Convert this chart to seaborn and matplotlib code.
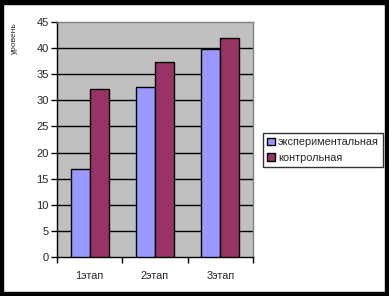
import matplotlib
matplotlib.use("Agg")
import matplotlib.pyplot as plt
import seaborn as sns
import pandas as pd
from matplotlib.patches import Rectangle

categories = ["1этап", "2этап", "3этап"]
series_names = ["экспериментальная", "контрольная"]
exp_values = [16.8, 32.5, 39.8]
ctrl_values = [32.1, 37.3, 41.9]
y_ticks = [0, 5, 10, 15, 20, 25, 30, 35, 40, 45]
y_label = "уровень"

sns.set_theme(style="white")
plt.rcParams['font.family'] = ['Liberation Sans', 'DejaVu Sans']

df = pd.DataFrame({
    "cat": categories * 2,
    "series": [series_names[0]] * 3 + [series_names[1]] * 3,
    "value": exp_values + ctrl_values,
})

fig = plt.figure(figsize=(3.89, 2.96), dpi=100)
ax = fig.add_axes([57/389, (296-257)/296, 196/389, 235/296])
ax.set_facecolor("#C0C0C0")

sns.barplot(data=df, x="cat", y="value", hue="series",
            palette=["#9999FF", "#993366"], saturation=1, width=0.58,
            edgecolor="black", linewidth=1.0, ax=ax, zorder=3)

ax.set_ylim(0, 45)
ax.set_xlim(-0.5, 2.5)
ax.set_yticks(y_ticks)
ax.set_yticklabels([str(t) for t in y_ticks], fontsize=8)
for t in y_ticks[1:-1]:
    ax.axhline(t, color="black", linewidth=1.0, zorder=1)

ax.set_xticks([-0.5, 0.5, 1.5, 2.5])
ax.set_xticklabels([])
ax.set_xticks([0, 1, 2], minor=True)
ax.set_xticklabels(categories, minor=True, fontsize=7.8)
ax.tick_params(axis="x", which="major", length=4, width=1, color="black", direction="out", bottom=True)
ax.tick_params(axis="x", which="minor", length=0, pad=10)
ax.tick_params(axis="y", length=4, width=1, color="black", direction="out", left=True, pad=2)
ax.set_xlabel("")
ax.set_ylabel("")

for s in ["top", "right"]:
    ax.spines[s].set_color("#808080")
    ax.spines[s].set_linewidth(1.0)
for s in ["left", "bottom"]:
    ax.spines[s].set_color("black")
    ax.spines[s].set_linewidth(1.0)

leg = ax.legend(loc="center left", bbox_to_anchor=(263/389, 146/296),
                bbox_transform=fig.transFigure, fontsize=7.8, frameon=True,
                fancybox=False, edgecolor="black", handlelength=0.7,
                handleheight=0.7, handletextpad=0.3, borderpad=0.4,
                labelspacing=0.5, borderaxespad=0)
leg.get_frame().set_linewidth(1.0)

fig.text(14/389, 1 - 38/296, y_label, rotation=90, fontsize=6,
         ha="center", va="center")

# black frame around figure
fig.patches.append(Rectangle((0, 292/296), 1, 4/296, transform=fig.transFigure,
                             color="black", zorder=10))
fig.patches.append(Rectangle((0, 0), 1, 4/296, transform=fig.transFigure,
                             color="black", zorder=10))
fig.patches.append(Rectangle((0, 0), 3/389, 1, transform=fig.transFigure,
                             color="black", zorder=10))
fig.patches.append(Rectangle((385/389, 0), 4/389, 1, transform=fig.transFigure,
                             color="black", zorder=10))

fig.savefig("out.png", dpi=100, facecolor="white")
